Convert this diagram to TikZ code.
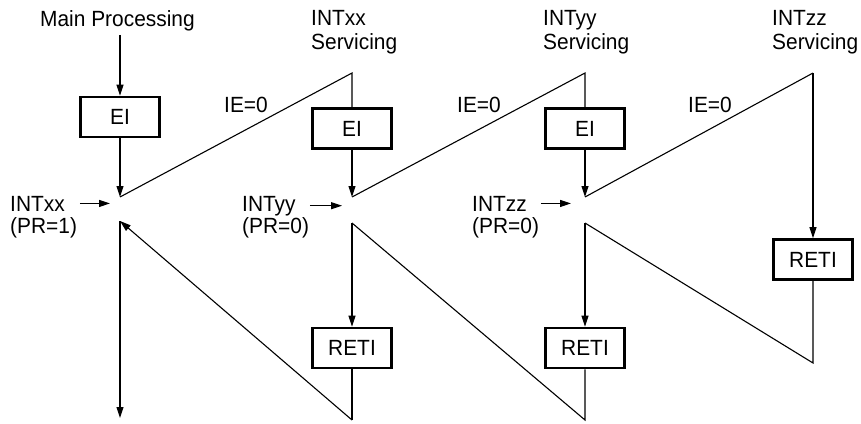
\documentclass[tikz,border=0pt]{standalone}
\usepackage{fontspec}
\setmainfont[FakeStretch=0.95]{Liberation Sans}
\usetikzlibrary{arrows.meta}
\begin{document}
\begin{tikzpicture}[x=1pt,y=-1pt,
  lbl/.style={inner sep=0pt, anchor=base west, font=\fontsize{22}{24}\selectfont},
  box/.style={draw, line width=2.6pt, minimum width=79pt, minimum height=40pt, inner sep=0pt, font=\fontsize{22}{24}\selectfont},
  ln/.style={line width=1.1pt},
  arr/.style={ln, -{Triangle[length=11pt,width=7pt]}}]
\useasboundingbox (0,0) rectangle (861,423);
% boxes
\node[box] (ei1) at (120,117) {EI};
\node[box] (ei2) at (352,128.5) {EI};
\node[box] (ei3) at (585,128.5) {EI};
\node[box] (re1) at (352,348) {RETI};
\node[box] (re2) at (585,348) {RETI};
\node[box] (re3) at (813,259.5) {RETI};
% points
\coordinate (i1) at (120,197);
\coordinate (t2) at (352,73);
\coordinate (i2) at (352,197);
\coordinate (t3) at (585,73);
\coordinate (i3) at (585,197);
\coordinate (t4) at (813,73);
\coordinate (b4) at (813,363);
\coordinate (r3) at (585,223);
\coordinate (b3) at (585,420);
\coordinate (r2) at (352,223);
\coordinate (b2) at (352,420);
\coordinate (r1) at (120,221);
\coordinate (e1) at (120,418);
% labels
\node[lbl] (main) at (40,26) {Main Processing};
\node[lbl] (sx1) at (311,25) {INTxx};
\node[lbl] (sx2) at (311,49) {Servicing};
\node[lbl] (sy1) at (543,25) {INTyy};
\node[lbl] (sy2) at (543,49) {Servicing};
\node[lbl] (sz1) at (772,25) {INTzz};
\node[lbl] (sz2) at (772,49) {Servicing};
\node[lbl] (ie1) at (224,112) {IE=0};
\node[lbl] (ie2) at (457,112) {IE=0};
\node[lbl] (ie3) at (688,112) {IE=0};
\node[lbl] (lx1) at (10,211) {INTxx};
\node[lbl] (lx2) at (10,233) {(PR=1)};
\node[lbl] (ly1) at (242,211) {INTyy};
\node[lbl] (ly2) at (242,233) {(PR=0)};
\node[lbl] (lz1) at (472,211) {INTzz};
\node[lbl] (lz2) at (472,233) {(PR=0)};
% interrupt arrows
\draw[arr] ([xshift=15pt]lx1.east) -- ([xshift=-10pt]lx1.east -| i1);
\draw[arr] ([xshift=14pt]ly1.east) -- ([xshift=-10pt]ly1.east -| i2);
\draw[arr] ([xshift=14pt]lz1.east) -- ([xshift=-14pt]lz1.east -| i3);
% flow
\draw[arr] ([yshift=-4pt]main.south -| ei1.north) -- (ei1.north);
\draw[arr] (ei1.south) -- (i1);
\draw[ln] (i1) -- (t2) -- (ei2.north);
\draw[arr] (ei2.south) -- (i2);
\draw[ln] (i2) -- (t3) -- (ei3.north);
\draw[arr] (ei3.south) -- (i3);
\draw[ln] (i3) -- (t4);
\draw[arr] (t4) -- (re3.north);
\draw[ln] (re3.south) -- (b4) -- (r3);
\draw[arr] (r3) -- (re2.north);
\draw[ln] (re2.south) -- (b3) -- (r2);
\draw[arr] (r2) -- (re1.north);
\draw[ln] (re1.south) -- (b2);
\draw[arr] (b2) -- (r1);
\draw[arr] (r1) -- (e1);
\end{tikzpicture}
\end{document}
